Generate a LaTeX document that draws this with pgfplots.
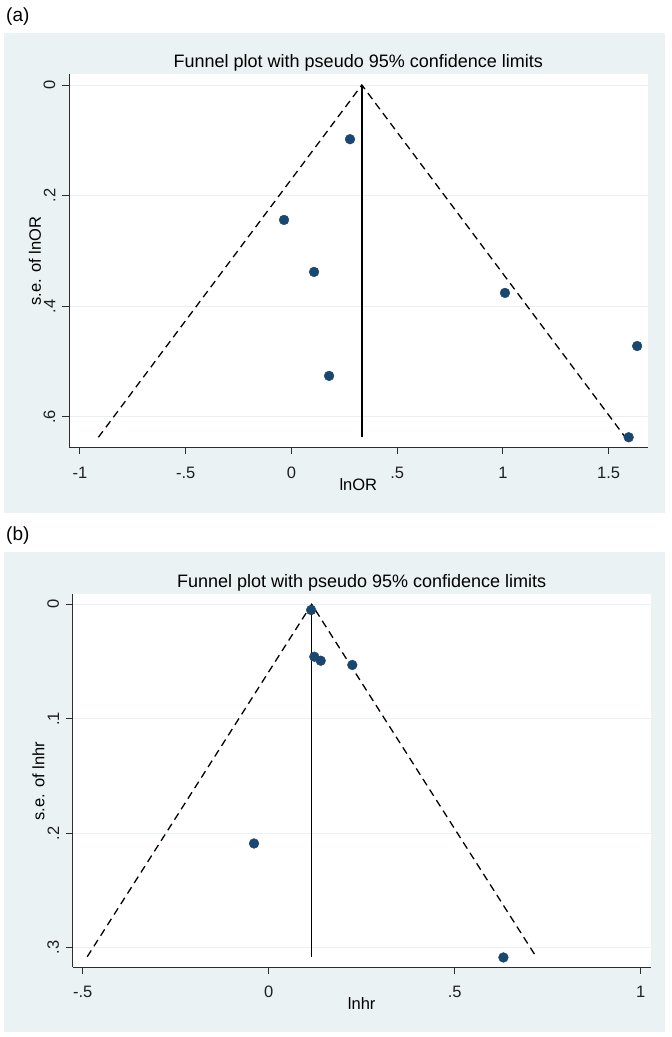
\documentclass[border=0pt]{standalone}
\usepackage{pgfplots}
\pgfplotsset{compat=1.18}
\usepackage{fontspec}
\setmainfont{Liberation Sans}
\definecolor{stbg}{RGB}{234,242,243}
\definecolor{stgrid}{RGB}{232,240,242}
\definecolor{stnavy}{RGB}{26,71,111}
\definecolor{staxis}{RGB}{45,45,45}
\pgfplotsset{
  stfunnel/.style={
    scale only axis, y dir=reverse,
    axis x line*=bottom, axis y line*=left,
    axis line style={staxis, line width=1pt},
    axis background/.style={fill=white},
    tick align=outside, major tick length=6.5pt,
    every tick/.style={staxis, line width=1pt},
    ymajorgrids, xmajorgrids=false,
    major grid style={stgrid, line width=1pt},
    tick label style={font=\fontsize{16.5}{16.5}\selectfont, text=black!88},
    yticklabel style={rotate=90, anchor=south, inner sep=0pt, yshift=7pt},
    xticklabel style={anchor=north, inner sep=0pt, yshift=-12pt},
    /pgf/number format/assume math mode=true,
  }
}
\begin{document}
\begin{tikzpicture}[x=1pt,y=1pt]
\path[use as bounding box] (0pt,0pt) rectangle (672pt,1037pt);
\fill[stbg] (4pt,524pt) rectangle (665pt,1004pt);
\fill[stbg] (4pt,5pt) rectangle (665pt,485pt);
\node[anchor=base west, font=\fontsize{19}{19}\selectfont, inner sep=0pt] at (6pt,1015pt) {(a)};
\node[anchor=base west, font=\fontsize{19}{19}\selectfont, inner sep=0pt] at (6pt,496pt) {(b)};

% ---------- panel (a)
\begin{axis}[stfunnel,
  at={(69pt,589pt)}, anchor=south west,
  width=578.7pt, height=374pt,
  xmin=-1.052, xmax=1.685, ymin=-0.0199, ymax=0.6564,
  xtick={-1,-0.5,0,0.5,1,1.5}, xticklabels={-1,-.5,0,.5,1,1.5},
  ytick={0,0.2,0.4,0.6}, yticklabels={0,.2,.4,.6}]
\addplot[only marks, mark=*, mark size=4.9pt, color=stnavy, mark options={draw=stnavy, fill=stnavy}] coordinates {
(0.277,0.098) (-0.035,0.244) (0.107,0.338) (0.178,0.526) (1.010,0.376) (1.635,0.472) (1.595,0.637)};
\addplot[black, line width=1.3pt, dash pattern=on 7.5pt off 5pt] coordinates {(-0.913,0.637) (0.333,0) (1.579,0.637)};
\addplot[black, line width=1.4pt] coordinates {(0.333,0) (0.333,0.637)};
\end{axis}
\node[anchor=base, font=\fontsize{18}{18}\selectfont, inner sep=0pt] at (358.3pt,969.3pt) {Funnel plot with pseudo 95\% confidence limits};
\node[rotate=90, font=\fontsize{16.5}{16.5}\selectfont, inner sep=0pt] at (35pt,776pt) {s.e. of lnOR};
\node[font=\fontsize{16.5}{16.5}\selectfont, inner sep=0pt] at (358.3pt,552.5pt) {lnOR};

% ---------- panel (b)
\begin{axis}[stfunnel,
  at={(72.7pt,69.7pt)}, anchor=south west,
  width=578pt, height=373.3pt,
  xmin=-0.527, xmax=1.027, ymin=-0.009, ymax=0.3172,
  xtick={-0.5,0,0.5,1}, xticklabels={-.5,0,.5,1},
  ytick={0,0.1,0.2,0.3}, yticklabels={0,.1,.2,.3}]
\addplot[only marks, mark=*, mark size=4.9pt, color=stnavy, mark options={draw=stnavy, fill=stnavy}] coordinates {
(0.114,0.005) (0.1226,0.0458) (0.1398,0.0493) (0.2247,0.053) (-0.0395,0.209) (0.631,0.3086)};
\addplot[black, line width=1.3pt, dash pattern=on 7.5pt off 5pt] coordinates {(-0.488,0.308) (0.1156,0) (0.719,0.308)};
\addplot[black, line width=1.4pt] coordinates {(0.1156,0) (0.1156,0.308)};
\end{axis}
\node[anchor=base, font=\fontsize{18}{18}\selectfont, inner sep=0pt] at (361.7pt,449pt) {Funnel plot with pseudo 95\% confidence limits};
\node[rotate=90, font=\fontsize{16.5}{16.5}\selectfont, inner sep=0pt] at (38.5pt,256pt) {s.e. of lnhr};
\node[font=\fontsize{16.5}{16.5}\selectfont, inner sep=0pt] at (361.7pt,33.5pt) {lnhr};
\end{tikzpicture}
\end{document}
